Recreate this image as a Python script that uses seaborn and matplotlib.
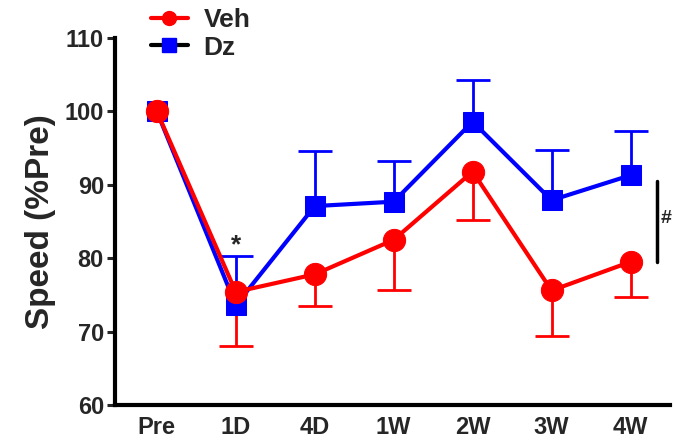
import matplotlib
matplotlib.use("Agg")
import matplotlib.pyplot as plt
import seaborn as sns
import pandas as pd
import numpy as np
from matplotlib.lines import Line2D

timepoints = ["Pre", "1D", "4D", "1W", "2W", "3W", "4W"]
veh_mean = [100.0, 75.4, 77.8, 82.5, 91.8, 75.6, 79.5]
veh_err = [0.0, 7.4, 4.3, 6.8, 6.6, 6.2, 4.8]   # lower error bars
dz_mean = [100.0, 73.6, 87.1, 87.7, 98.6, 87.9, 91.3]
dz_err = [0.0, 6.7, 7.5, 5.6, 5.7, 6.9, 6.0]    # upper error bars

RED = "#FF0000"
BLUE = "#0000FF"

sns.set_theme(style="ticks")
plt.rcParams['font.family'] = ['Liberation Sans', 'DejaVu Sans']
plt.rcParams['font.weight'] = 'bold'

fig = plt.figure(figsize=(6.74, 4.43), dpi=100)
ax = fig.add_axes([115/674, 38/443, 555/674, 367/443])

x = np.arange(len(timepoints))
df = pd.DataFrame({
    "x": np.concatenate([x, x]),
    "speed": veh_mean + dz_mean,
    "group": ["Veh"] * len(x) + ["Dz"] * len(x),
})

# error bars (one-sided)
zeros = np.zeros(len(x))
has_err_dz = np.array(dz_err) > 0
has_err_veh = np.array(veh_err) > 0
_, caps_dz, _ = ax.errorbar(x[has_err_dz], np.array(dz_mean)[has_err_dz],
                            yerr=[zeros[has_err_dz], np.array(dz_err)[has_err_dz]],
                            fmt="none", ecolor=BLUE, elinewidth=2, capsize=12,
                            capthick=2, zorder=2)
caps_dz[0].set_visible(False)
_, caps_veh, _ = ax.errorbar(x[has_err_veh], np.array(veh_mean)[has_err_veh],
                             yerr=[np.array(veh_err)[has_err_veh], zeros[has_err_veh]],
                             fmt="none", ecolor=RED, elinewidth=2, capsize=12,
                             capthick=2, zorder=2)
caps_veh[1].set_visible(False)

sns.lineplot(data=df[df.group == "Dz"], x="x", y="speed", color=BLUE,
             marker="s", markersize=15, markeredgecolor=BLUE, linewidth=3,
             ax=ax, zorder=3, legend=False)
sns.lineplot(data=df[df.group == "Veh"], x="x", y="speed", color=RED,
             marker="o", markersize=16, markeredgecolor=RED, linewidth=3,
             ax=ax, zorder=4, legend=False)

ax.set_xlim(-0.53, 6.5)
ax.set_ylim(60, 110)
ax.set_yticks([60, 70, 80, 90, 100, 110])
ax.set_xticks(x)
ax.set_xticklabels(timepoints)
ax.set_xlabel("")
ax.set_ylabel("Speed (%Pre)", fontsize=24, fontweight="bold", labelpad=6)
ax.tick_params(axis="both", labelsize=17, width=2.2, length=6, pad=2)
ax.tick_params(axis="x", length=0, pad=8)
for lab in ax.get_xticklabels() + ax.get_yticklabels():
    lab.set_fontweight("bold")
sns.despine(ax=ax)
for s in ["left", "bottom"]:
    ax.spines[s].set_linewidth(3)
    ax.spines[s].set_color("black")

# significance annotations
ax.text(1, 81.7, "*", ha="center", va="center", fontsize=19, fontweight="bold")
ax.plot([6.33, 6.33], [79.5, 90.5], color="black", linewidth=2.5, clip_on=False)
ax.text(6.385, 85.4, "#", ha="left", va="center", fontsize=14, fontweight="bold",
        clip_on=False)

handles = [
    Line2D([], [], color=RED, marker="o", markersize=10, linewidth=3),
    Line2D([], [], color="black", marker="s", markersize=10, linewidth=3,
           markerfacecolor=BLUE, markeredgecolor=BLUE),
]
leg = fig.legend(handles, ["Veh", "Dz"], loc="upper left",
                 bbox_to_anchor=(140/674, 1.005), frameon=False,
                 prop={"size": 19, "weight": "bold"}, handlelength=1.4,
                 labelspacing=0.12, handletextpad=0.6, borderaxespad=0.0)

fig.savefig("out.png", dpi=100)
